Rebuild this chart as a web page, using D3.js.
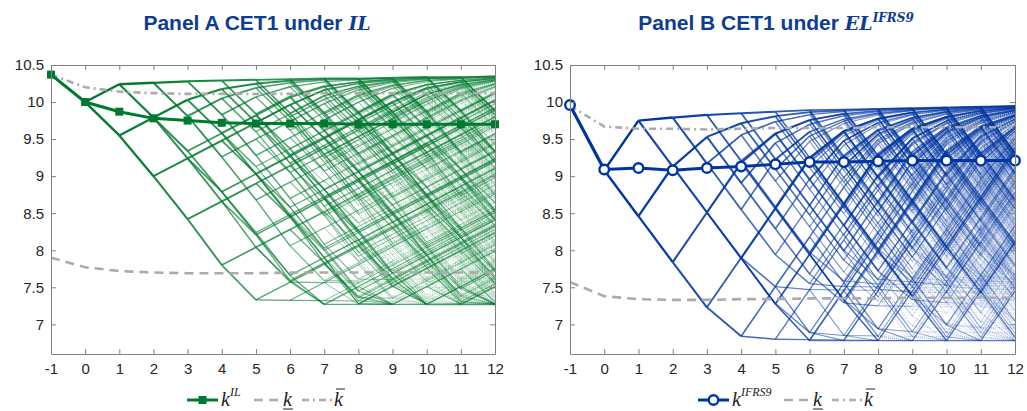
<!DOCTYPE html>
<html><head><meta charset="utf-8">
<script src="https://cdn.jsdelivr.net/npm/d3@7"></script>
<style>body{margin:0;background:#fff}</style>
</head><body>
<svg id="c" width="1027" height="411"></svg>
<script>
// ---------- shared ----------
const years = [-1,0,1,2,3,4,5,6,7,8,9,10,11,12];
const yTicks = [7,7.5,8,8.5,9,9.5,10,10.5];
const pCrisisStart = 0.35;  // normal -> crisis
const pCrisisStay = 0.5;    // crisis -> crisis

// ---------- Panel A (IL) ----------
const meanIL  = [10.37,10.00,9.87,9.78,9.75,9.72,9.71,9.71,9.71,9.70,9.70,9.70,9.70,9.70];
const kLowIL  = [7.90,7.77,7.72,7.70,7.69,7.69,7.69,7.70,7.70,7.70,7.70,7.70,7.70,7.70];
const kHighIL = [10.37,10.20,10.14,10.12,10.11,10.11,10.11,10.11,10.12,10.12,10.12,10.12,10.12,10.12];
const startIL = [10.37,10.00];
const ceilingIL = [10.00,10.24,10.26,10.28,10.29,10.30,10.31,10.32,10.32,10.33,10.34,10.34,10.35];
const crisisStepsIL = [-0.45,-0.55,-0.58,-0.62,-0.47,-0.006,-0.006,-0.006,-0.006,-0.006,-0.006,-0.006,-0.006];
const recoveryStepIL = 0.24;
const floorIL = 7.27;

// ---------- Panel B (EL IFRS9) ----------
const meanEL  = [9.96,9.09,9.11,9.08,9.11,9.13,9.16,9.19,9.19,9.20,9.21,9.21,9.21,9.21];
const kLowEL  = [7.57,7.38,7.34,7.33,7.33,7.34,7.34,7.35,7.35,7.35,7.36,7.36,7.36,7.36];
const kHighEL = [9.95,9.67,9.64,9.64,9.63,9.64,9.65,9.65,9.65,9.66,9.66,9.66,9.66,9.66];
const startEL = [9.95,9.08];
const ceilingEL = [9.08,9.77,9.80,9.83,9.85,9.87,9.89,9.90,9.91,9.92,9.93,9.94,9.95];
const crisisStepsEL = [-0.62,-0.62,-0.61,-0.39,-0.04,-0.006,-0.006,-0.006,-0.006,-0.006,-0.006,-0.006,-0.006];
const recoveryStepEL = 0.67;
const floorEL = 6.78;

const approachRatio = 0.45;

function buildTree(start, ceiling, steps, rec, floor) {
  const edges = new Map();
  const q = v => Math.round(v*200);
  const add = (t,k1,k2,p) => {
    const key = t+'|'+q(k1)+'|'+q(k2);
    const e = edges.get(key);
    if (e) e.p += p; else edges.set(key,{t,k1,k2,p});
  };
  add(-1, start[0], start[1], 1);
  let nodes = new Map([['0|'+q(start[1]), {k:start[1], d:0, p:1}]]);
  for (let t=0; t<12; t++) {
    const next = new Map();
    const put = (k,d,p) => { k = q(k)/200; const key = d+'|'+q(k); const n = next.get(key); if (n) n.p += p; else next.set(key,{k,d,p}); };
    for (const n of nodes.values()) {
      const pc = t===0 ? 0.5 : (n.d===0 ? pCrisisStart : pCrisisStay);
      const gap = Math.max(ceiling[t]-n.k, 0);
      const kn = Math.min(n.k+rec, ceiling[t+1]-approachRatio*gap);
      const kc = Math.max(n.k+steps[Math.min(n.d, steps.length-1)], floor);
      add(t, n.k, kn, n.p*(1-pc)); put(kn, 0, n.p*(1-pc));
      add(t, n.k, kc, n.p*pc);     put(kc, n.d+1, n.p*pc);
    }
    nodes = next;
  }
  return [...edges.values()].sort((a,b)=>a.p-b.p);
}

const svg = d3.select('#c');
const TOP = 65, BOT = 354;

function panel(cfg) {
  const x = d3.scaleLinear().domain([-1,12]).range([cfg.x0, cfg.x1]);
  const y = d3.scaleLinear().domain([6.6,10.5]).range([BOT, TOP]);
  const g = svg.append('g');
  svg.append('clipPath').attr('id','clip'+cfg.id).append('rect')
    .attr('x',cfg.x0).attr('y',TOP).attr('width',cfg.x1-cfg.x0).attr('height',BOT-TOP);

  const edges = buildTree(cfg.start, cfg.ceiling, cfg.steps, cfg.rec, cfg.floor);
  const norm = p => Math.max(0, Math.min(1, (Math.log2(p)+12.5)/11));
  g.append('g').attr('clip-path',`url(#clip${cfg.id})`)
    .selectAll('line').data(edges).join('line')
    .attr('x1',d=>x(d.t)).attr('x2',d=>x(d.t+1))
    .attr('y1',d=>y(d.k1)).attr('y2',d=>y(d.k2))
    .attr('stroke',cfg.color)
    .attr('stroke-width',d=>0.5+1.9*Math.pow(norm(d.p),1.4))
    .attr('stroke-opacity',d=>0.12+0.88*Math.pow(norm(d.p),0.9))
    .attr('stroke-dasharray',d=>norm(d.p)<0.33?'1,1':null);

  const line = d3.line().x((d,i)=>x(years[i])).y(d=>y(d));
  g.append('path').attr('d',line(cfg.kLow)).attr('fill','none')
    .attr('stroke','#ababab').attr('stroke-width',2.6).attr('stroke-dasharray','9,6');
  g.append('path').attr('d',line(cfg.kHigh)).attr('fill','none')
    .attr('stroke','#ababab').attr('stroke-width',2.6).attr('stroke-dasharray','7,4,2,4');

  g.append('path').attr('d',line(cfg.mean)).attr('fill','none')
    .attr('stroke',cfg.color).attr('stroke-width',3);
  if (cfg.marker==='square') {
    g.selectAll('rect.m').data(cfg.mean).join('rect').attr('class','m')
      .attr('x',(d,i)=>x(years[i])-4).attr('y',d=>y(d)-4).attr('width',8).attr('height',8)
      .attr('fill',cfg.color);
  } else {
    g.selectAll('circle.m').data(cfg.mean).join('circle').attr('class','m')
      .attr('cx',(d,i)=>x(years[i])).attr('cy',d=>y(d)).attr('r',4.8)
      .attr('fill','#fff').attr('stroke',cfg.color).attr('stroke-width',2.4);
  }

  // axes (box style, ticks inside)
  const style = a => {
    a.selectAll('path,line').attr('stroke','#808080');
    a.selectAll('text').attr('fill','#262626').attr('font-size',15)
      .attr('font-family','"Liberation Sans", Arial, sans-serif');
  };
  g.append('g').attr('transform',`translate(0,${BOT})`)
    .call(d3.axisBottom(x).tickValues(years).tickFormat(d=>String(d)).tickSize(-5).tickSizeOuter(0).tickPadding(9)).call(style);
  g.append('g').attr('transform',`translate(0,${TOP})`)
    .call(d3.axisTop(x).tickValues(years).tickFormat('').tickSize(-5).tickSizeOuter(0)).call(style);
  g.append('g').attr('transform',`translate(${cfg.x0},0)`)
    .call(d3.axisLeft(y).tickValues(yTicks).tickFormat(d=>String(d)).tickSize(-5).tickSizeOuter(0).tickPadding(7)).call(style);
  g.append('g').attr('transform',`translate(${cfg.x1},0)`)
    .call(d3.axisRight(y).tickValues(yTicks).tickFormat('').tickSize(-5).tickSizeOuter(0)).call(style);

  // title
  const t = svg.append('text').attr('x',cfg.titleX).attr('y',30).attr('text-anchor','middle')
    .attr('font-family','"Liberation Sans", Arial, sans-serif').attr('font-weight','bold')
    .attr('font-size',21).attr('fill','#0d3d8f');
  t.append('tspan').text(cfg.title);
  t.append('tspan').attr('font-family','"DejaVu Serif", serif').attr('font-style','italic')
    .attr('font-weight','bold').attr('font-size',19).text(cfg.titleMath);
  if (cfg.titleSup) t.append('tspan').attr('font-family','"DejaVu Serif", serif').attr('font-style','italic')
    .attr('font-weight','bold').attr('font-size',12).attr('dy',-8).text(cfg.titleSup);

  // legend
  const L = cfg.leg, ly = 400;
  const lg = svg.append('g');
  lg.append('line').attr('x1',L[0]).attr('x2',L[0]+31).attr('y1',ly).attr('y2',ly)
    .attr('stroke',cfg.color).attr('stroke-width',3);
  if (cfg.marker==='square') lg.append('rect').attr('x',L[0]+11.5).attr('y',ly-4).attr('width',8).attr('height',8).attr('fill',cfg.color);
  else lg.append('circle').attr('cx',L[0]+15.5).attr('cy',ly).attr('r',4.8).attr('fill','#fff').attr('stroke',cfg.color).attr('stroke-width',2.4);
  const serif = '"Liberation Serif", serif';
  const kt = lg.append('text').attr('x',L[0]+34).attr('y',ly+6).attr('font-family',serif)
    .attr('font-style','italic').attr('font-size',20).attr('fill','#222');
  kt.append('tspan').text('k');
  kt.append('tspan').attr('font-size',12).attr('dy',-10).text(cfg.legSup);
  lg.append('line').attr('x1',L[1]).attr('x2',L[1]+24).attr('y1',ly).attr('y2',ly)
    .attr('stroke','#ababab').attr('stroke-width',2.6).attr('stroke-dasharray','9,6');
  lg.append('text').attr('x',L[2]).attr('y',ly+6).attr('font-family',serif).attr('font-style','italic')
    .attr('font-size',20).attr('fill','#222').text('k');
  lg.append('line').attr('x1',L[2]).attr('x2',L[2]+10).attr('y1',ly+9).attr('y2',ly+9).attr('stroke','#222').attr('stroke-width',1);
  lg.append('line').attr('x1',L[3]).attr('x2',L[3]+30).attr('y1',ly).attr('y2',ly)
    .attr('stroke','#ababab').attr('stroke-width',2.6).attr('stroke-dasharray','7,4,2,4');
  lg.append('text').attr('x',L[4]).attr('y',ly+6).attr('font-family',serif).attr('font-style','italic')
    .attr('font-size',20).attr('fill','#222').text('k');
  lg.append('line').attr('x1',L[4]+2).attr('x2',L[4]+11).attr('y1',ly-11).attr('y2',ly-11).attr('stroke','#222').attr('stroke-width',1);
}

panel({id:'A', x0:51, x1:495, color:'#007a2f', marker:'square',
  start:startIL, ceiling:ceilingIL, steps:crisisStepsIL, rec:recoveryStepIL, floor:floorIL,
  mean:meanIL, kLow:kLowIL, kHigh:kHighIL,
  titleX:257, title:'Panel A CET1 under ', titleMath:'IL', titleSup:null,
  leg:[187,254,283,302,334], legSup:'IL'});
panel({id:'B', x0:570, x1:1015, color:'#0035a0', marker:'circle',
  start:startEL, ceiling:ceilingEL, steps:crisisStepsEL, rec:recoveryStepEL, floor:floorEL,
  mean:meanEL, kLow:kLowEL, kHigh:kHighEL,
  titleX:776, title:'Panel B CET1 under ', titleMath:'EL', titleSup:'IFRS9',
  leg:[698,784,813,832,864], legSup:'IFRS9'});
</script>
</body></html>
